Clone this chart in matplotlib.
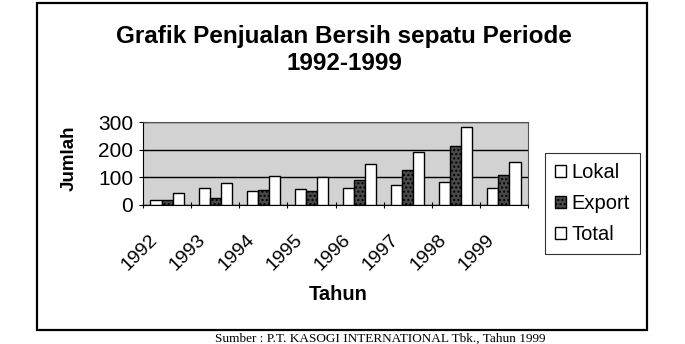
import numpy as np
import matplotlib
matplotlib.use("Agg")
import matplotlib.pyplot as plt
from matplotlib.patches import Rectangle

plt.rcParams['font.family'] = ['Liberation Sans', 'DejaVu Sans']

tahun = ['1992', '1993', '1994', '1995', '1996', '1997', '1998', '1999']
lokal = [18, 62, 50, 59, 62, 73, 82, 61]
export = [18, 24, 53, 50, 92, 125, 212, 108]
total = [44, 80, 104, 102, 147, 192, 283, 157]

W, H = 685, 344
fig = plt.figure(figsize=(W / 100, H / 100), dpi=100)

# outer frame of the chart object
fig.patches.append(Rectangle((37 / W, 1 - 330 / H), (647 - 37) / W, (330 - 3) / H,
                             transform=fig.transFigure, fill=False,
                             edgecolor='black', linewidth=1.6))

ax = fig.add_axes([143 / W, 1 - 205 / H, (528 - 143) / W, (205 - 122) / H])
ax.set_facecolor('#d2d2d2')

x = np.arange(len(tahun))
bw = 0.23
ax.bar(x - bw, lokal, bw, color='white', edgecolor='black', linewidth=1.0,
       label='Lokal', zorder=3)
ax.bar(x, export, bw, color='#4a4a4a', edgecolor='black', linewidth=1.0,
       hatch='....', label='Export', zorder=3)
ax.bar(x + bw, total, bw, color='white', edgecolor='black', linewidth=1.0,
       label='Total', zorder=3)

ax.set_xlim(-0.5, len(tahun) - 0.5)
ax.set_ylim(0, 300)
ax.set_yticks([0, 100, 200, 300])
ax.yaxis.grid(True, color='black', linewidth=1.0, zorder=1)
ax.set_axisbelow(True)

# labels sit a little left of the group centres, as in the scan
ax.set_xticks(x - 0.37)
ax.set_xticklabels(tahun, rotation=45, ha='right', rotation_mode='anchor',
                   fontsize=14)
ax.tick_params(axis='x', which='major', length=0, pad=19)
ax.set_xticks(np.arange(-0.5, len(tahun)), minor=True)
ax.tick_params(axis='x', which='minor', length=5, direction='inout', width=0.8)
ax.tick_params(axis='y', labelsize=15, length=6, direction='inout', width=0.8,
               pad=4)

for s in ax.spines.values():
    s.set_color('#555555')
    s.set_linewidth(0.8)
ax.spines['bottom'].set_color('black')
ax.spines['left'].set_color('black')

fig.text(344 / W, 1 - 37 / H, 'Grafik Penjualan Bersih sepatu Periode',
         ha='center', va='center', fontsize=17.5, fontweight='bold')
fig.text(344 / W, 1 - 64 / H, '1992-1999',
         ha='center', va='center', fontsize=17.5, fontweight='bold')
fig.text(69 / W, 1 - 158 / H, 'Jumlah', rotation=90, ha='center', va='center',
         fontsize=13.5, fontweight='bold')
fig.text(338 / W, 1 - 295 / H, 'Tahun', ha='center', va='center',
         fontsize=14.5, fontweight='bold')

leg = ax.legend(loc='upper left', bbox_to_anchor=(545 / W, 1 - 153 / H),
                bbox_transform=fig.transFigure, fontsize=14.5, frameon=True,
                fancybox=False, handlelength=0.55, handleheight=0.55,
                handletextpad=0.25, labelspacing=0.6, borderpad=0.5,
                borderaxespad=0)
leg.get_frame().set_edgecolor('black')
leg.get_frame().set_linewidth(0.8)

fig.text(380 / W, 2 / H,
         'Sumber : P.T. KASOGI INTERNATIONAL Tbk., Tahun 1999',
         ha='center', va='baseline', fontsize=9.5, family='Liberation Serif')

fig.savefig('out.png', dpi=100)
